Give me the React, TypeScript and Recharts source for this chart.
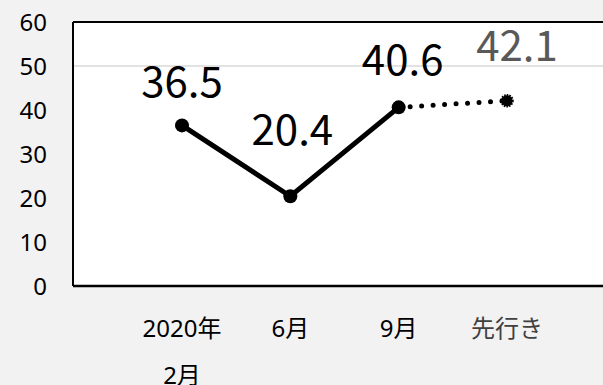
import React from "react";
import { LineChart, Line, XAxis, YAxis, ReferenceLine, CartesianGrid, LabelList } from "recharts";

const categories = ["2020年\n2月", "6月", "9月", "先行き"];
const actualValues: (number | null)[] = [36.5, 20.4, 40.6, null];
const forecastValues: (number | null)[] = [null, null, 40.6, 42.1];
const yTicks = [0, 10, 20, 30, 40, 50, 60];

const data = categories.map((c, i) => ({ cat: c, actual: actualValues[i], forecast: forecastValues[i] }));

const FONT = "'Noto Sans CJK JP', 'Noto Sans', sans-serif";
const TICK_FONT = "'Noto Sans', 'Noto Sans CJK JP', sans-serif";
// label placement relative to point: [dx, dy]
const LABEL_OFFSETS: [number, number][] = [[0, -28], [2, -51], [4, -32], [10, -40]];

const XTick = (props: any) => {
  const { x, y, payload, index } = props;
  const lines = String(payload.value).split("\n");
  const fill = index === 3 ? "#404040" : "#000";
  return (
    <g>
      {lines.map((l, i) => (
        <text key={i} x={x} y={y + 51 + i * 47} textAnchor="middle" fontSize={24} fontFamily={TICK_FONT} fill={fill}>
          {l}
        </text>
      ))}
    </g>
  );
};

const makeLabel = (color: string, allowed: number[]) => (props: any) => {
  const { x, y, value, index } = props;
  if (value == null || !allowed.includes(index)) return null;
  const [dx, dy] = LABEL_OFFSETS[index];
  return (
    <text x={x + dx} y={y + dy} textAnchor="middle" fontSize={42} fontFamily={FONT} fill={color}>
      {value}
    </text>
  );
};

const ActualDot = (props: any) => {
  const { cx, cy, value } = props;
  if (value == null) return null;
  return <circle cx={cx} cy={cy} r={7} fill="#000" />;
};

const ForecastDot = (props: any) => {
  const { cx, cy, index } = props;
  if (index !== 3) return null;
  return <circle cx={cx} cy={cy} r={5.5} fill="#000" stroke="#000" strokeWidth={2.5} strokeDasharray="1.5 1" />;
};

export default function App() {
  return (
    <div style={{ position: "absolute", left: 0, top: 0, width: 603, height: 385, background: "#f2f2f2", overflow: "hidden" }}>
      <LineChart width={603} height={385} data={data} margin={{ top: 22, right: 0, bottom: 0, left: 0 }}>
        <CartesianGrid horizontal={false} vertical={false} fill="#ffffff" />
        <ReferenceLine y={50} stroke="#d9d9d9" strokeWidth={1.5} />
        <ReferenceLine y={60} stroke="#000" strokeWidth={2} />
        <XAxis
          dataKey="cat"
          height={99}
          interval={0}
          tickLine={false}
          tickSize={0}
          tickMargin={0}
          axisLine={{ stroke: "#000", strokeWidth: 2.5 }}
          padding={{ left: 109, right: 96 }}
          tick={<XTick />}
        />
        <YAxis
          domain={[0, 60]}
          ticks={yTicks}
          width={73}
          tickLine={false}
          tickSize={0}
          tickMargin={26}
          axisLine={{ stroke: "#000", strokeWidth: 2 }}
          tick={{ fontSize: 24, fontFamily: TICK_FONT, fill: "#000" }}
        />
        <Line
          dataKey="forecast"
          stroke="#000"
          strokeWidth={5}
          strokeDasharray="0 11.5"
          strokeLinecap="round"
          dot={<ForecastDot />}
          activeDot={false}
          isAnimationActive={false}
        >
          <LabelList dataKey="forecast" content={makeLabel("#595959", [3])} />
        </Line>
        <Line
          dataKey="actual"
          stroke="#000"
          strokeWidth={5}
          dot={<ActualDot />}
          activeDot={false}
          isAnimationActive={false}
        >
          <LabelList dataKey="actual" content={makeLabel("#000", [0, 1, 2])} />
        </Line>
      </LineChart>
    </div>
  );
}
